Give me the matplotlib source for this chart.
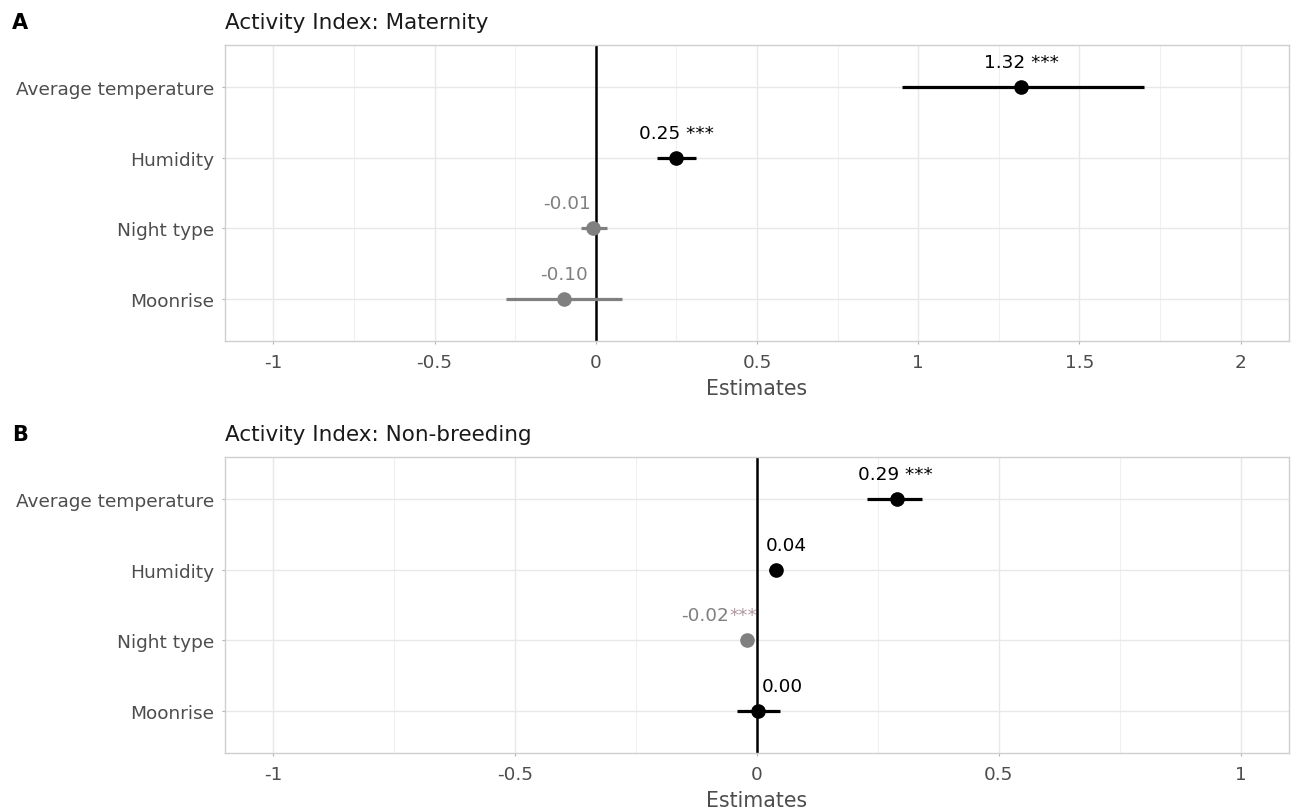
import numpy as np
import matplotlib
matplotlib.use("Agg")
import matplotlib.pyplot as plt

# model terms (top to bottom)
terms = ["Average temperature", "Humidity", "Night type", "Moonrise"]

# panel A: maternity
est_a = [1.32, 0.25, -0.01, -0.10]
lo_a = [0.95, 0.19, -0.047, -0.28]
hi_a = [1.70, 0.31, 0.034, 0.08]
stars_a = [" ***", " ***", "", ""]
xticks_a = [-1, -0.5, 0, 0.5, 1, 1.5, 2]

# panel B: non-breeding
est_b = [0.29, 0.04, -0.02, 0.003]
lo_b = [0.228, 0.024, -0.025, -0.041]
hi_b = [0.342, 0.052, -0.010, 0.048]
stars_b = [" ***", "", "***", ""]
xticks_b = [-1, -0.5, 0, 0.5, 1]

# label nudges in pixels (to keep labels off the zero line)
# (for two-colour labels the nudge is where the number ends)
nudge_a = [0, 0, -26, 0]
nudge_b = [-2, 10, -18, 24]

POS = "#000000"
NEG = "#808080"
STAR_NEG = "#b0949c"
TICK = "#4D4D4D"

W, H = 1295, 812
fig = plt.figure(figsize=(W / 100, H / 100), dpi=100)
ax_a = fig.add_axes([225 / W, 1 - 342.3 / H, 1064 / W, (342.3 - 45.7) / H])
ax_b = fig.add_axes([225 / W, 1 - 754.3 / H, 1064 / W, (754.3 - 458) / H])


def panel(ax, est, lo, hi, stars, nudge, xticks):
    y = np.arange(len(terms))[::-1] + 1
    ax.axvline(0, color="black", lw=1.8, zorder=2)
    for i in range(len(terms)):
        c = NEG if est[i] < 0 else POS
        ax.hlines(y[i], lo[i], hi[i], color=c, lw=2.3, zorder=3)
        ax.plot(est[i], y[i], "o", ms=9.5, color=c, mec=c, zorder=4)
        val = "%.2f" % est[i]
        dx = nudge[i] * 0.72
        if stars[i] and est[i] < 0:
            # value grey, stars in a pinkish grey
            v = ax.annotate(val, xy=(est[i], y[i]), xytext=(dx, 14.5),
                            textcoords="offset points", ha="right",
                            va="baseline", fontsize=13.3, color=c)
            ax.annotate(stars[i], xy=(1, 0), xycoords=v, ha="left",
                        va="bottom", fontsize=13.3, color=STAR_NEG)
        else:
            ax.annotate(val + stars[i], xy=(est[i], y[i]), xytext=(dx, 14.5),
                        textcoords="offset points", ha="center",
                        va="baseline", fontsize=13.3, color=c)

    ax.set_yticks(y)
    ax.set_yticklabels(terms)
    ax.set_ylim(0.4, 4.6)
    span = xticks[-1] - xticks[0]
    ax.set_xlim(xticks[0] - 0.05 * span, xticks[-1] + 0.05 * span)
    ax.set_xticks(xticks)
    ax.set_xticklabels(["{:g}".format(t) for t in xticks])
    ax.set_xticks(np.arange(xticks[0] + 0.25, xticks[-1], 0.5), minor=True)
    ax.set_axisbelow(True)
    ax.grid(which="major", color="#E8E8E8", lw=1.0)
    ax.grid(which="minor", axis="x", color="#F0F0F0", lw=0.8)
    for s in ax.spines.values():
        s.set_color("#CFCFCF")
        s.set_linewidth(1.0)
    ax.tick_params(axis="both", which="major", length=2.5, width=0.8,
                   color="#B3B3B3", labelcolor=TICK, labelsize=13.3)
    ax.tick_params(axis="x", pad=6)
    ax.tick_params(axis="y", pad=5)
    ax.tick_params(which="minor", length=0)
    ax.set_xlabel("Estimates", fontsize=14.8, color=TICK, labelpad=5)


panel(ax_a, est_a, lo_a, hi_a, stars_a, nudge_a, xticks_a)
panel(ax_b, est_b, lo_b, hi_b, stars_b, nudge_b, xticks_b)

fig.text(12 / W, 1 - 29 / H, "A", fontsize=15, fontweight="bold", va="baseline")
fig.text(225 / W, 1 - 29 / H, "Activity Index: Maternity", fontsize=15.5,
         va="baseline", color="#1a1a1a")
fig.text(12 / W, 1 - 441 / H, "B", fontsize=15, fontweight="bold", va="baseline")
fig.text(225 / W, 1 - 441 / H, "Activity Index: Non-breeding", fontsize=15.5,
         va="baseline", color="#1a1a1a")

fig.savefig("out.png", dpi=100)
